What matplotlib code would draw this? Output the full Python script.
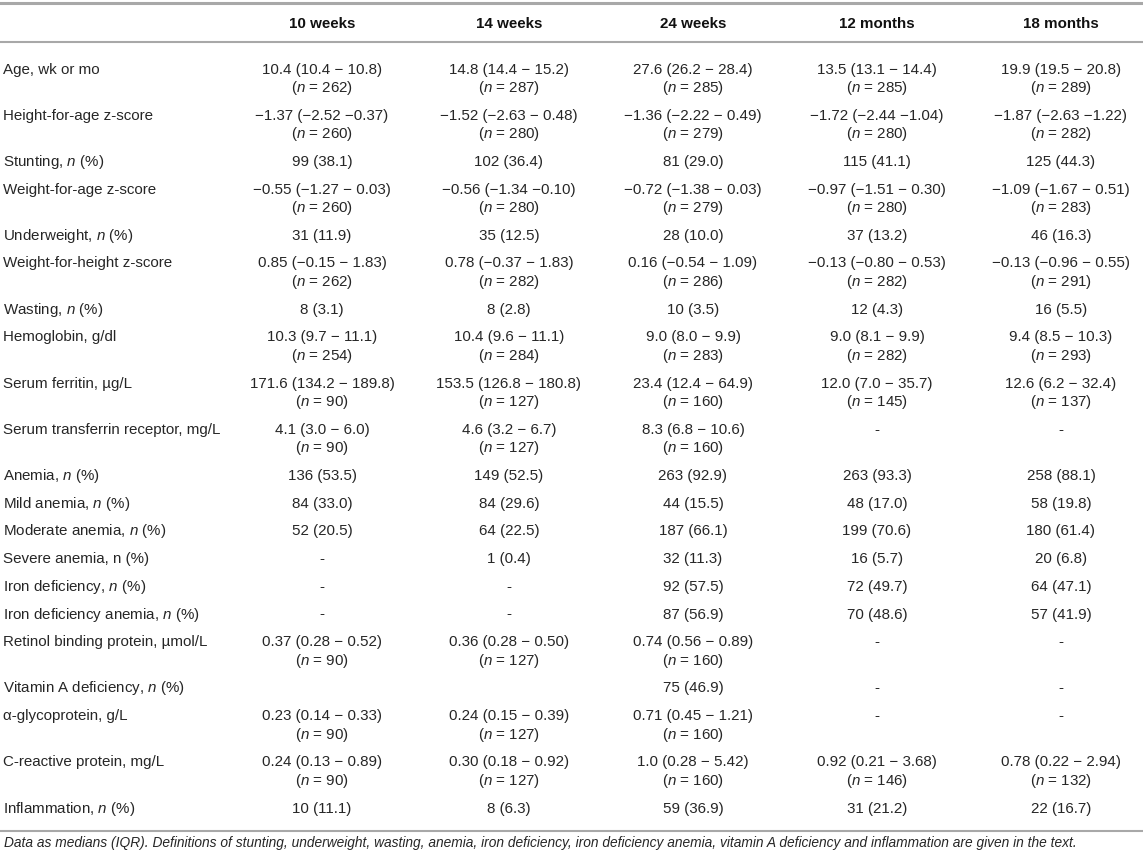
import matplotlib
matplotlib.use("Agg")
import matplotlib.pyplot as plt

plt.rcParams['font.family'] = ['Liberation Sans', 'DejaVu Sans']
plt.rcParams['mathtext.fontset'] = 'custom'
plt.rcParams['mathtext.rm'] = 'Liberation Sans'
plt.rcParams['mathtext.it'] = 'Liberation Sans:italic'

columns = ["10 weeks", "14 weeks", "24 weeks", "12 months", "18 months"]

labels = [
    "Age, wk or mo",
    "Height-for-age z-score",
    "Stunting, $n$ (%)",
    "Weight-for-age z-score",
    "Underweight, $n$ (%)",
    "Weight-for-height z-score",
    "Wasting, $n$ (%)",
    "Hemoglobin, g/dl",
    "Serum ferritin, \u00b5g/L",
    "Serum transferrin receptor, mg/L",
    "Anemia, $n$ (%)",
    "Mild anemia, $n$ (%)",
    "Moderate anemia, $n$ (%)",
    "Severe anemia, n (%)",
    "Iron deficiency, $n$ (%)",
    "Iron deficiency anemia, $n$ (%)",
    "Retinol binding protein, \u00b5mol/L",
    "Vitamin A deficiency, $n$ (%)",
    "\u03b1-glycoprotein, g/L",
    "C-reactive protein, mg/L",
    "Inflammation, $n$ (%)",
]

w10 = ["10.4 (10.4 \u2212 10.8)", "\u22121.37 (\u22122.52 \u22120.37)", "99 (38.1)",
       "\u22120.55 (\u22121.27 \u2212 0.03)", "31 (11.9)", "0.85 (\u22120.15 \u2212 1.83)",
       "8 (3.1)", "10.3 (9.7 \u2212 11.1)", "171.6 (134.2 \u2212 189.8)", "4.1 (3.0 \u2212 6.0)",
       "136 (53.5)", "84 (33.0)", "52 (20.5)", "-", "-", "-",
       "0.37 (0.28 \u2212 0.52)", "", "0.23 (0.14 \u2212 0.33)", "0.24 (0.13 \u2212 0.89)", "10 (11.1)"]
n_w10 = [262, 260, None, 260, None, 262, None, 254, 90, 90,
         None, None, None, None, None, None, 90, None, 90, 90, None]

w14 = ["14.8 (14.4 \u2212 15.2)", "\u22121.52 (\u22122.63 \u2212 0.48)", "102 (36.4)",
       "\u22120.56 (\u22121.34 \u22120.10)", "35 (12.5)", "0.78 (\u22120.37 \u2212 1.83)",
       "8 (2.8)", "10.4 (9.6 \u2212 11.1)", "153.5 (126.8 \u2212 180.8)", "4.6 (3.2 \u2212 6.7)",
       "149 (52.5)", "84 (29.6)", "64 (22.5)", "1 (0.4)", "-", "-",
       "0.36 (0.28 \u2212 0.50)", "", "0.24 (0.15 \u2212 0.39)", "0.30 (0.18 \u2212 0.92)", "8 (6.3)"]
n_w14 = [287, 280, None, 280, None, 282, None, 284, 127, 127,
         None, None, None, None, None, None, 127, None, 127, 127, None]

w24 = ["27.6 (26.2 \u2212 28.4)", "\u22121.36 (\u22122.22 \u2212 0.49)", "81 (29.0)",
       "\u22120.72 (\u22121.38 \u2212 0.03)", "28 (10.0)", "0.16 (\u22120.54 \u2212 1.09)",
       "10 (3.5)", "9.0 (8.0 \u2212 9.9)", "23.4 (12.4 \u2212 64.9)", "8.3 (6.8 \u2212 10.6)",
       "263 (92.9)", "44 (15.5)", "187 (66.1)", "32 (11.3)", "92 (57.5)", "87 (56.9)",
       "0.74 (0.56 \u2212 0.89)", "75 (46.9)", "0.71 (0.45 \u2212 1.21)", "1.0 (0.28 \u2212 5.42)", "59 (36.9)"]
n_w24 = [285, 279, None, 279, None, 286, None, 283, 160, 160,
         None, None, None, None, None, None, 160, None, 160, 160, None]

m12 = ["13.5 (13.1 \u2212 14.4)", "\u22121.72 (\u22122.44 \u22121.04)", "115 (41.1)",
       "\u22120.97 (\u22121.51 \u2212 0.30)", "37 (13.2)", "\u22120.13 (\u22120.80 \u2212 0.53)",
       "12 (4.3)", "9.0 (8.1 \u2212 9.9)", "12.0 (7.0 \u2212 35.7)", "-",
       "263 (93.3)", "48 (17.0)", "199 (70.6)", "16 (5.7)", "72 (49.7)", "70 (48.6)",
       "-", "-", "-", "0.92 (0.21 \u2212 3.68)", "31 (21.2)"]
n_m12 = [285, 280, None, 280, None, 282, None, 282, 145, None,
         None, None, None, None, None, None, None, None, None, 146, None]

m18 = ["19.9 (19.5 \u2212 20.8)", "\u22121.87 (\u22122.63 \u22121.22)", "125 (44.3)",
       "\u22121.09 (\u22121.67 \u2212 0.51)", "46 (16.3)", "\u22120.13 (\u22120.96 \u2212 0.55)",
       "16 (5.5)", "9.4 (8.5 \u2212 10.3)", "12.6 (6.2 \u2212 32.4)", "-",
       "258 (88.1)", "58 (19.8)", "180 (61.4)", "20 (6.8)", "64 (47.1)", "57 (41.9)",
       "-", "-", "-", "0.78 (0.22 \u2212 2.94)", "22 (16.7)"]
n_m18 = [289, 282, None, 283, None, 291, None, 293, 137, None,
         None, None, None, None, None, None, None, None, None, 132, None]

values = [w10, w14, w24, m12, m18]
counts = [n_w10, n_w14, n_w24, n_m12, n_m18]

footnote = ("Data as medians (IQR). Definitions of stunting, underweight, wasting, anemia, iron deficiency, "
            "iron deficiency anemia, vitamin A deficiency and inflammation are given in the text.")

# layout in pixels
W, H = 1143, 856
col_x = [322, 509, 693, 877, 1061]
label_x = 3
single_h = 27.7
line_gap = 18.5
base = 5.5          # centre -> baseline offset
txt = '#262626'
rule = '#a8a8a8'
fs = 10.9

fig = plt.figure(figsize=(W / 100, H / 100), dpi=100)
ax = fig.add_axes([0, 0, 1, 1])
ax.set_xlim(0, W)
ax.set_ylim(H, 0)
ax.axis('off')

ax.axhline(3, color=rule, lw=2.2)
ax.axhline(42, color=rule, lw=1.5)
for cx, name in zip(col_x, columns):
    ax.text(cx, 22.5 + base, name, ha='center', va='baseline', fontsize=fs,
            fontweight='bold', color='#111111')

y = 68
for i, lab in enumerate(labels):
    two = any(c[i] is not None for c in counts)
    ax.text(label_x, y + base, lab, ha='left', va='baseline', fontsize=fs, color=txt)
    for cx, vals, ns in zip(col_x, values, counts):
        ax.text(cx, y + base, vals[i], ha='center', va='baseline', fontsize=fs, color=txt)
        if ns[i] is not None:
            ax.text(cx, y + line_gap + base, "($n$ = %d)" % ns[i], ha='center',
                    va='baseline', fontsize=fs, color=txt)
    last = y
    y += single_h + (line_gap if two else 0)

ax.axhline(last + 24, color=rule, lw=1.5)
ax.text(label_x + 1, 843 + 4.5, footnote, ha='left', va='baseline', fontsize=9.9,
        style='italic', color=txt)

fig.savefig("out.png", dpi=100)
